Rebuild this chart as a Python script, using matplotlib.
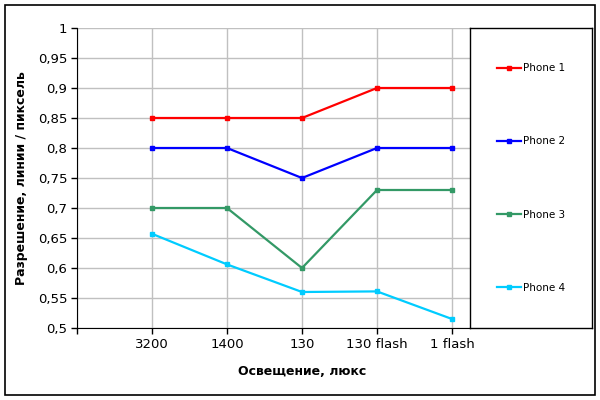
import matplotlib
matplotlib.use('Agg')
import matplotlib.pyplot as plt
from matplotlib.patches import Rectangle

# данные
categories = ['3200', '1400', '130', '130 flash', '1 flash']
phone1 = [0.85, 0.85, 0.85, 0.90, 0.90]
phone2 = [0.80, 0.80, 0.75, 0.80, 0.80]
phone3 = [0.70, 0.70, 0.60, 0.73, 0.73]
phone4 = [0.657, 0.606, 0.56, 0.561, 0.515]
names = ['Phone 1', 'Phone 2', 'Phone 3', 'Phone 4']
colors = ['#FF0000', '#0000FF', '#339966', '#00CCFF']
y_ticks = [0.5 + 0.05 * i for i in range(11)]

plt.rcParams['font.family'] = ['DejaVu Sans']

fig = plt.figure(figsize=(6, 4), dpi=100)
fig.patch.set_facecolor('white')
# рамка вокруг всей диаграммы
fig.patches.append(Rectangle((5 / 600, 5 / 400), 590 / 600, 390 / 400, transform=fig.transFigure,
                             fill=False, edgecolor='black', lw=1.2))

ax = fig.add_axes([77 / 600, 72 / 400, 450 / 600, 300 / 400])
x = list(range(1, len(categories) + 1))
lines = []
for vals, name, c in zip([phone1, phone2, phone3, phone4], names, colors):
    ln, = ax.plot(x, vals, color=c, lw=1.6, marker='s', markersize=3, label=name, zorder=3)
    lines.append(ln)

ax.set_xlim(0, 6)
ax.set_ylim(0.5, 1.0)
ax.set_xticks(range(0, 6))
ax.set_xticklabels([''] + categories, fontsize=9.5)
ax.set_yticks(y_ticks)
ax.set_yticklabels([('%.2f' % v).rstrip('0').rstrip('.').replace('.', ',') for v in y_ticks], fontsize=9.5)
ax.tick_params(direction='out', length=4, width=1, colors='black', pad=3)
ax.grid(True, color='#C0C0C0', lw=1, zorder=0)
ax.set_axisbelow(True)
ax.spines['top'].set_visible(False)
ax.spines['right'].set_visible(False)
ax.spines['bottom'].set_bounds(0, 5.24)
ax.set_xlabel('Освещение, люкс', fontsize=9, fontweight='bold', labelpad=10)
ax.set_ylabel('Разрешение, линии / пиксель', fontsize=9, fontweight='bold', labelpad=7)

# легенда в отдельной рамке справа
lax = fig.add_axes([470 / 600, 72 / 400, 122 / 600, 300 / 400])
lax.set_facecolor('white')
lax.set_xticks([])
lax.set_yticks([])
for s in lax.spines.values():
    s.set_color('black')
    s.set_linewidth(1)
lax.legend(handles=lines, loc='center', frameon=False, fontsize=7.5,
           labelspacing=6.05, handlelength=2.3, handletextpad=0.2)

plt.savefig('out.png', dpi=100)
